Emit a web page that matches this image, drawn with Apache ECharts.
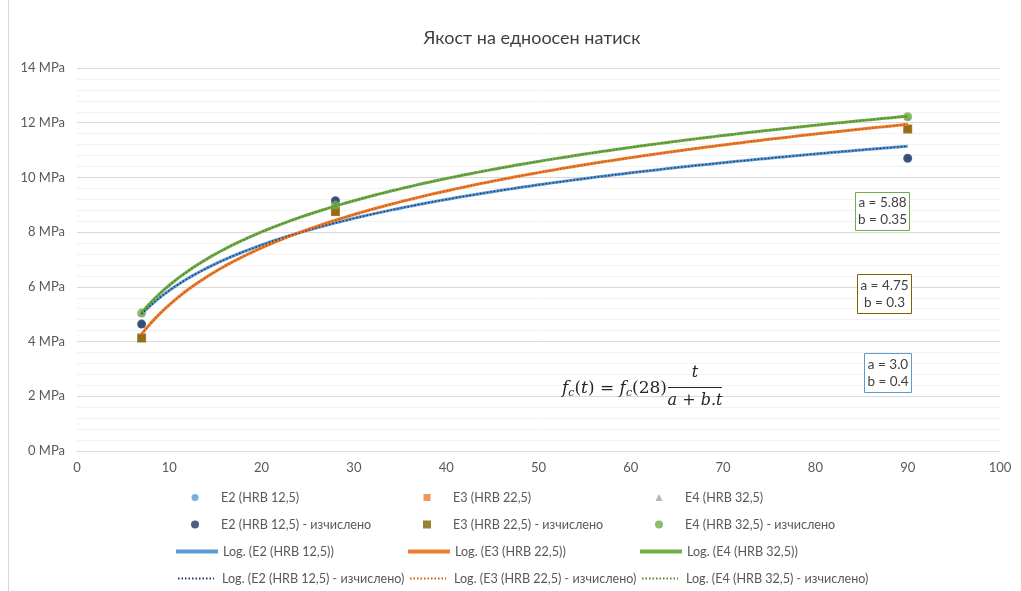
<!DOCTYPE html>
<html>
<head>
<meta charset="utf-8">
<script src="https://cdn.jsdelivr.net/npm/echarts@6/dist/echarts.min.js"></script>
<style>html,body{margin:0;padding:0;background:#fff}#c{width:1021px;height:591px}</style>
</head>
<body>
<div id="c"></div>
<script>
// ---- data ----
const days = [7, 28, 90];
const e2Measured = [4.64, 9.15, 10.70];
const e3Measured = [4.13, 8.75, 11.77];
const e4Measured = [5.04, 8.99, 12.22];
const e2Calc = [4.64, 9.15, 10.70];
const e3Calc = [4.13, 8.75, 11.77];
const e4Calc = [5.04, 8.99, 12.22];
const seriesNames = [
  'E2 (HRB 12,5)', 'E3 (HRB 22,5)', 'E4 (HRB 32,5)',
  'E2 (HRB 12,5) - изчислено', 'E3 (HRB 22,5) - изчислено', 'E4 (HRB 32,5) - изчислено',
  'Log. (E2 (HRB 12,5))', 'Log. (E3 (HRB 22,5))', 'Log. (E4 (HRB 32,5))',
  'Log. (E2 (HRB 12,5) - изчислено)', 'Log. (E3 (HRB 22,5) - изчислено)', 'Log. (E4 (HRB 32,5) - изчислено)'
];
const yTicks = [0, 2, 4, 6, 8, 10, 12, 14];
const xTicks = [0, 10, 20, 30, 40, 50, 60, 70, 80, 90, 100];
const titleText = 'Якост на едноосен натиск';
const boxTexts = [['a = 5.88', 'b = 0.35'], ['a = 4.75', 'b = 0.3'], ['a = 3.0', 'b = 0.4']];

// ---- logarithmic trendline (least squares y = a*ln(x) + b) ----
function logFit(xs, ys) {
  const lx = xs.map(Math.log);
  const n = xs.length;
  const mx = lx.reduce((s, v) => s + v, 0) / n;
  const my = ys.reduce((s, v) => s + v, 0) / n;
  let sxy = 0, sxx = 0;
  for (let i = 0; i < n; i++) { sxy += (lx[i] - mx) * (ys[i] - my); sxx += (lx[i] - mx) ** 2; }
  const a = sxy / sxx, b = my - a * mx;
  const out = [];
  const x0 = Math.min(...xs), x1 = Math.max(...xs);
  for (let x = x0; x <= x1 + 1e-9; x += 0.5) out.push([x, a * Math.log(x) + b]);
  return out;
}
const pts = arr => days.map((d, i) => [d, arr[i]]);

const FONT = 'Lato, "Noto Sans", sans-serif';
const TXT = '#595959';

const colors = {
  e2: '#5b9bd5', e3: '#ed7d31', e4: '#a5a5a5',
  e2c: '#1f3864', e3c: '#7f6000', e4c: '#70ad47',
  l2c: '#1f3864', l3c: '#c55a11', l4c: '#548235'
};

const sc = (i, data, sym, size, color, z) => ({
  name: seriesNames[i], type: 'scatter', data: pts(data), symbol: sym, symbolSize: size,
  itemStyle: {color: color}, z: z
});
const ln = (i, data, color, width, dotted) => ({
  name: seriesNames[i], type: 'line', data: logFit(days, data), symbol: 'none', showSymbol: false,
  lineStyle: dotted ? {color: color, width: width, type: [1.5, 2]} : {color: color, width: width},
  itemStyle: {color: color}, z: dotted ? 5 : 4
});

const series = [
  sc(0, e2Measured, 'circle', 7, colors.e2, 2),
  sc(1, e3Measured, 'rect', 7, colors.e3, 2),
  sc(2, e4Measured, 'triangle', 7, colors.e4, 2),
  sc(3, e2Calc, 'circle', 9, colors.e2c, 3),
  sc(4, e3Calc, 'rect', 9, colors.e3c, 3),
  sc(5, e4Calc, 'circle', 9, colors.e4c, 3),
  ln(6, e2Measured, colors.e2, 3, false),
  ln(7, e3Measured, colors.e3, 3, false),
  ln(8, e4Measured, colors.e4c, 3, false),
  ln(9, e2Calc, colors.l2c, 1.5, true),
  ln(10, e3Calc, colors.l3c, 1.5, true),
  ln(11, e4Calc, colors.l4c, 1.5, true)
];

const colX = [174, 406, 638];
const rowY = [499, 526, 553, 580];
const LEG_FS = 12.6;
const legends = seriesNames.map((nm, i) => {
  const row = Math.floor(i / 3), col = i % 3;
  if (row < 2) {
    const s = row === 0 ? 7 : 8;
    const left = colX[col] + 21 - s / 2;
    return {
      data: [nm], left: left, top: rowY[row] - 8, padding: 0,
      itemWidth: s, itemHeight: s, selectedMode: false,
      textStyle: {color: TXT, fontSize: LEG_FS, fontFamily: FONT,
        padding: [0, 0, 0, (colX[col] + 47) - (left + s + 5)]}
    };
  }
  const w = row === 2 ? 42 : 36;
  const left = row === 2 ? colX[col] : colX[col] + 3;
  return {
    data: [nm], left: left, top: rowY[row] - 8, padding: 0,
    itemWidth: w, itemHeight: 14, selectedMode: false,
    itemStyle: {opacity: 0},
    lineStyle: {width: row === 2 ? 4 : 2},
    textStyle: {color: TXT, fontSize: LEG_FS, fontFamily: FONT,
      padding: [0, 0, 0, (colX[col] + 47) - (left + w + 5)]}
  };
});

const graphics = [
  {type: 'line', shape: {x1: 8.5, y1: 0, x2: 8.5, y2: 591}, style: {stroke: '#d9d9d9', lineWidth: 1}, silent: true, z: 0},
  {type: 'text', x: 532, y: 38, style: {text: titleText, fontSize: 18, fontFamily: FONT, fill: '#404040', align: 'center', verticalAlign: 'middle'}, z: 10}
];
const boxes = [
  {x: 855, y: 192, w: 54, h: 38, c: '#70ad47'},
  {x: 857, y: 274, w: 54, h: 39, c: '#806000'},
  {x: 864, y: 353, w: 47, h: 39, c: '#5b9bd5'}
];
boxes.forEach((b, i) => {
  graphics.push({type: 'rect', shape: {x: b.x + 0.5, y: b.y + 0.5, width: b.w, height: b.h}, style: {fill: '#fff', stroke: b.c, lineWidth: 1}, z: 10});
  graphics.push({type: 'text', x: b.x + b.w / 2 + 0.5, y: b.y + b.h / 2 - 8, style: {text: boxTexts[i][0], fontSize: 13.5, fontFamily: FONT, fill: '#404040', align: 'center', verticalAlign: 'middle'}, z: 11});
  graphics.push({type: 'text', x: b.x + b.w / 2 + 0.5, y: b.y + b.h / 2 + 9, style: {text: boxTexts[i][1], fontSize: 13.5, fontFamily: FONT, fill: '#404040', align: 'center', verticalAlign: 'middle'}, z: 11});
});
// formula
const SERIF = '"DejaVu Serif", "Liberation Serif", serif';
graphics.push({type: 'text', x: 562, y: 389, z: 11, style: {
  text: '{i|f}{s|c}{n|(}{i|t}{n|) = }{i|f}{s|c}{n|(28)}',
  verticalAlign: 'middle', fill: '#262626',
  rich: {
    i: {fontFamily: SERIF, fontStyle: 'italic', fontSize: 17, fill: '#262626'},
    n: {fontFamily: SERIF, fontSize: 17, fill: '#262626'},
    s: {fontFamily: SERIF, fontStyle: 'italic', fontSize: 11, fill: '#262626', padding: [8, 0, 0, 0]}
  }
}});
graphics.push({type: 'text', x: 695, y: 373, z: 11, style: {text: 't', fontFamily: SERIF, fontStyle: 'italic', fontSize: 16, fill: '#262626', align: 'center', verticalAlign: 'middle'}});
graphics.push({type: 'line', shape: {x1: 668, y1: 387.5, x2: 722, y2: 387.5}, style: {stroke: '#262626', lineWidth: 1}, z: 11});
graphics.push({type: 'text', x: 695, y: 401, z: 11, style: {text: 'a + b.t', fontFamily: SERIF, fontStyle: 'italic', fontSize: 16, fill: '#262626', align: 'center', verticalAlign: 'middle'}});

const chart = echarts.init(document.getElementById('c'), null, {renderer: 'canvas'});
chart.setOption({
  animation: false,
  backgroundColor: '#fff',
  grid: {left: 77, right: 21, top: 68, bottom: 140, containLabel: false},
  xAxis: {
    type: 'value', min: xTicks[0], max: xTicks[xTicks.length - 1], interval: 10,
    axisLine: {show: true, lineStyle: {color: '#d9d9d9'}},
    axisTick: {show: false},
    splitLine: {show: false},
    axisLabel: {color: TXT, fontSize: 13, fontFamily: FONT, margin: 10}
  },
  yAxis: {
    type: 'value', min: yTicks[0], max: yTicks[yTicks.length - 1], interval: 2,
    axisLine: {show: false}, axisTick: {show: false},
    splitLine: {show: true, lineStyle: {color: '#d9d9d9'}},
    minorTick: {show: false, splitNumber: 5},
    minorSplitLine: {show: true, lineStyle: {color: '#f2f2f2'}},
    axisLabel: {color: TXT, fontSize: 13, fontFamily: FONT, margin: 12, formatter: '{value} MPa'}
  },
  legend: legends,
  series: series,
  graphic: graphics
});
</script>
</body>
</html>
